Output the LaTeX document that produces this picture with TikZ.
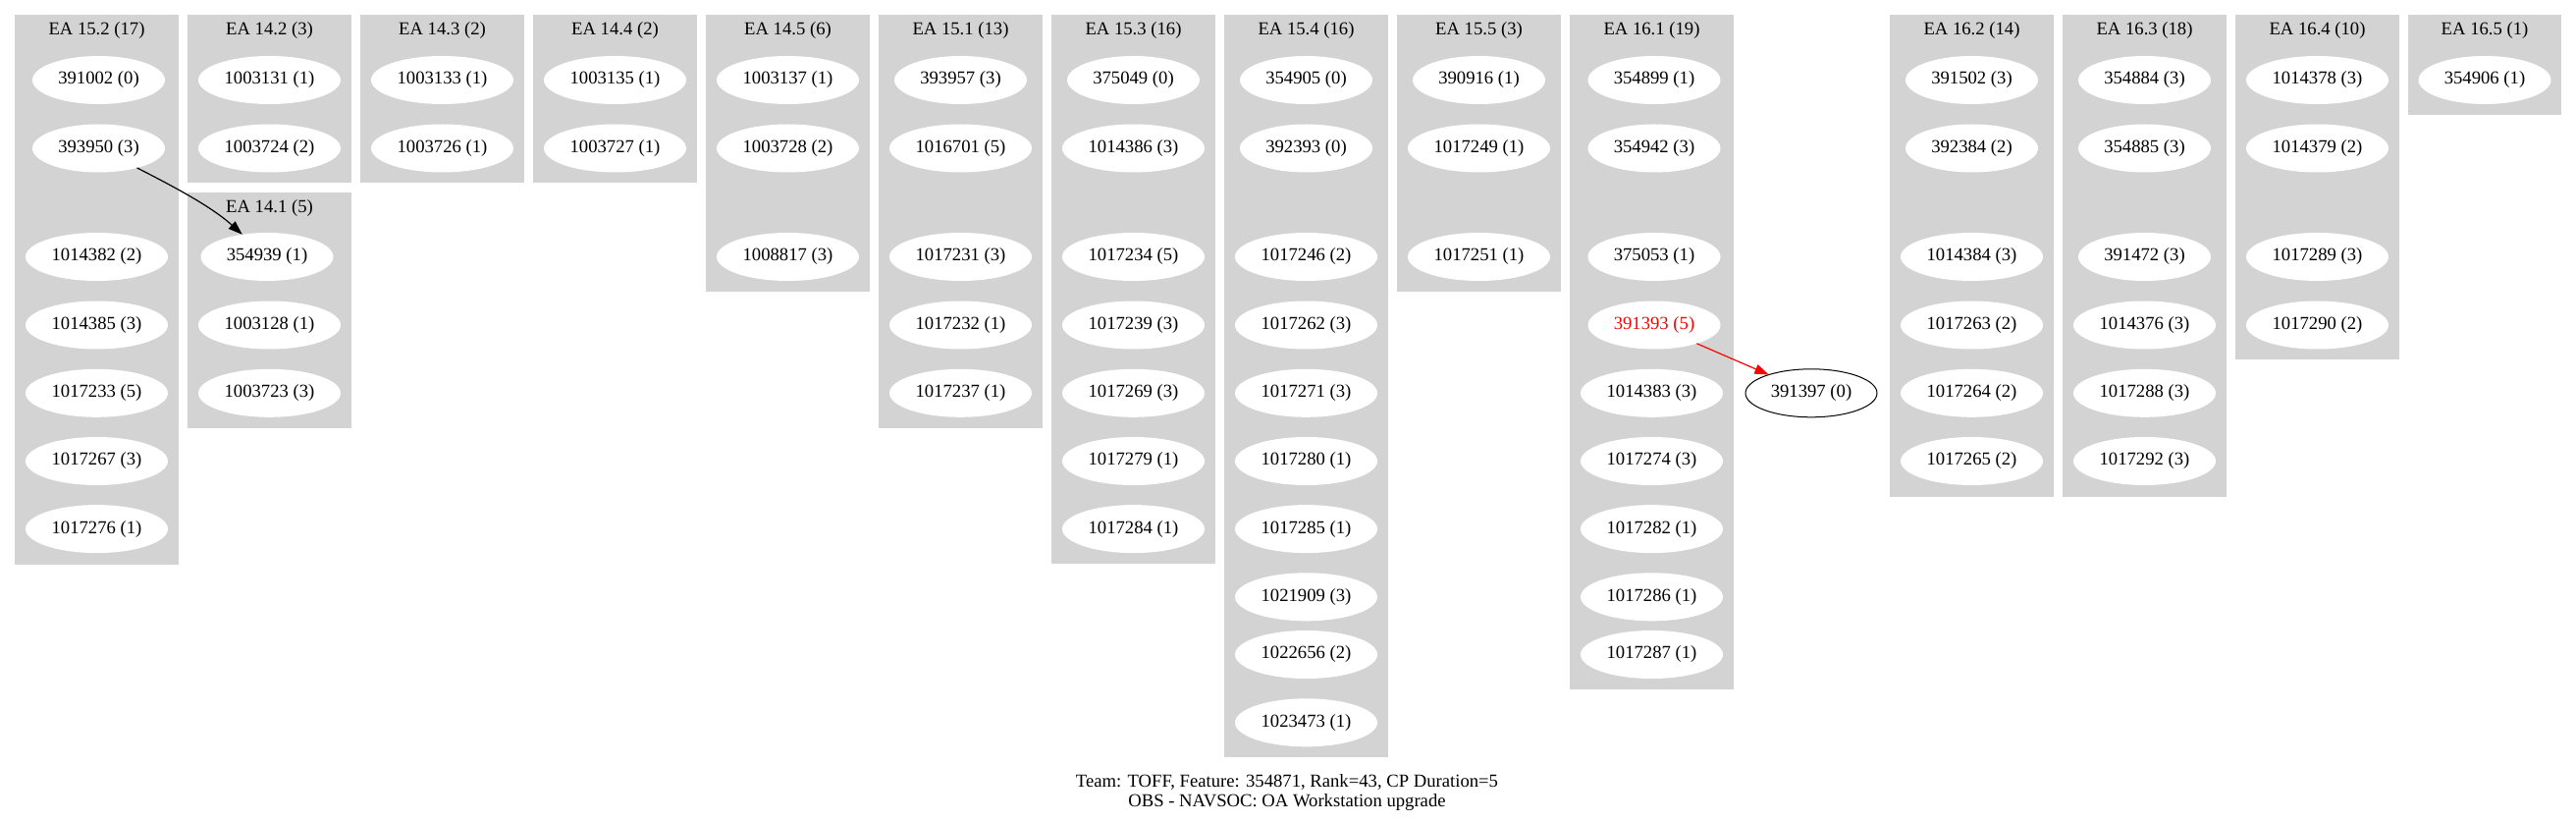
\documentclass[tikz,border=0pt]{standalone}
\usepackage{fontspec}
\setmainfont{Liberation Serif}
\usetikzlibrary{shapes.geometric,arrows.meta}
\definecolor{clgray}{HTML}{D3D3D3}
\begin{document}
\begin{tikzpicture}[x=0.75pt,y=-0.75pt,
  every node/.style={font=\fontsize{14}{15}\selectfont},
  task/.style={ellipse, fill=white, inner sep=0pt, outer sep=0pt,
               minimum height=36.75pt, minimum width=108.75pt},
  short/.style={minimum width=101.25pt},
  hot/.style={text=red},
  free/.style={draw=black, line width=0.75pt, minimum width=100.5pt},
  clbox/.style={fill=clgray},
  cltitle/.style={inner sep=0pt},
  dep/.style={-{Triangle[length=10.8pt,width=7.5pt]}, line width=0.9pt}
]
\useasboundingbox (0,0) rectangle (2624,837);

% ---------- cluster backgrounds ----------
\fill[clbox] (15,15)   rectangle (182,574.8);
\fill[clbox] (191,15)  rectangle (358,186);
\fill[clbox] (191,196) rectangle (358,435.8);
\fill[clbox] (367,15)  rectangle (534,186);
\fill[clbox] (543,15)  rectangle (710,186);
\fill[clbox] (719,15)  rectangle (886,297.4);
\fill[clbox] (895,15)  rectangle (1062,435.8);
\fill[clbox] (1071,15) rectangle (1238,574);
\fill[clbox] (1247,15) rectangle (1414,771);
\fill[clbox] (1423,15) rectangle (1590,297.4);
\fill[clbox] (1599,15) rectangle (1766,701.7);
\fill[clbox] (1925,15) rectangle (2092,506);
\fill[clbox] (2101,15) rectangle (2268,506);
\fill[clbox] (2277,15) rectangle (2444,366.3);
\fill[clbox] (2453,15) rectangle (2609,117);

% ---------- cluster titles ----------
\node[cltitle] (t152) at (98.5,31.5)  {EA 15.2 (17)};
\node[cltitle] (t142) at (274.5,31.5) {EA 14.2 (3)};
\node[cltitle] (t141) at (274.5,212.5) {EA 14.1 (5)};
\node[cltitle] (t143) at (450.5,31.5) {EA 14.3 (2)};
\node[cltitle] (t144) at (626.5,31.5) {EA 14.4 (2)};
\node[cltitle] (t145) at (802.5,31.5) {EA 14.5 (6)};
\node[cltitle] (t151) at (978.5,31.5) {EA 15.1 (13)};
\node[cltitle] (t153) at (1154.5,31.5) {EA 15.3 (16)};
\node[cltitle] (t154) at (1330.5,31.5) {EA 15.4 (16)};
\node[cltitle] (t155) at (1506.5,31.5) {EA 15.5 (3)};
\node[cltitle] (t161) at (1682.5,31.5) {EA 16.1 (19)};
\node[cltitle] (t162) at (2008.5,31.5) {EA 16.2 (14)};
\node[cltitle] (t163) at (2184.5,31.5) {EA 16.3 (18)};
\node[cltitle] (t164) at (2360.5,31.5) {EA 16.4 (10)};
\node[cltitle] (t165) at (2531,31.5)   {EA 16.5 (1)};

% ---------- EA 15.2 ----------
\node[task,short] (n391002) at (100.5,81.5) {391002 (0)};
\node[task,short] (n393950) at (100.5,151) {393950 (3)};
\node[task] (n1014382) at (98.5,261.5) {1014382 (2)};
\node[task] (n1014385) at (98.5,331) {1014385 (3)};
\node[task] (n1017233) at (98.5,400.3) {1017233 (5)};
\node[task] (n1017267) at (98.5,469.5) {1017267 (3)};
\node[task] (n1017276) at (98.5,538.6) {1017276 (1)};

% ---------- EA 14.2 / EA 14.1 ----------
\node[task] (n1003131) at (274.5,81.5) {1003131 (1)};
\node[task] (n1003724) at (274.5,151) {1003724 (2)};
\node[task,short] (n354939) at (272,261.5) {354939 (1)};
\node[task] (n1003128) at (274.5,331) {1003128 (1)};
\node[task] (n1003723) at (274.5,400.3) {1003723 (3)};

% ---------- EA 14.3 ----------
\node[task] (n1003133) at (450.5,81.5) {1003133 (1)};
\node[task] (n1003726) at (450.5,151) {1003726 (1)};

% ---------- EA 14.4 ----------
\node[task] (n1003135) at (626.5,81.5) {1003135 (1)};
\node[task] (n1003727) at (626.5,151) {1003727 (1)};

% ---------- EA 14.5 ----------
\node[task] (n1003137) at (802.5,81.5) {1003137 (1)};
\node[task] (n1003728) at (802.5,151) {1003728 (2)};
\node[task] (n1008817) at (802.5,261.5) {1008817 (3)};

% ---------- EA 15.1 ----------
\node[task,short] (n393957) at (978.5,81.5) {393957 (3)};
\node[task] (n1016701) at (978.5,151) {1016701 (5)};
\node[task] (n1017231) at (978.5,261.5) {1017231 (3)};
\node[task] (n1017232) at (978.5,331) {1017232 (1)};
\node[task] (n1017237) at (978.5,400.3) {1017237 (1)};

% ---------- EA 15.3 ----------
\node[task,short] (n375049) at (1154.5,81.5) {375049 (0)};
\node[task] (n1014386) at (1154.5,151) {1014386 (3)};
\node[task] (n1017234) at (1154.5,261.5) {1017234 (5)};
\node[task] (n1017239) at (1154.5,331) {1017239 (3)};
\node[task] (n1017269) at (1154.5,400.3) {1017269 (3)};
\node[task] (n1017279) at (1154.5,469.5) {1017279 (1)};
\node[task] (n1017284) at (1154.5,538.6) {1017284 (1)};

% ---------- EA 15.4 ----------
\node[task,short] (n354905) at (1330.5,81.5) {354905 (0)};
\node[task,short] (n392393) at (1330.5,151) {392393 (0)};
\node[task] (n1017246) at (1330.5,261.5) {1017246 (2)};
\node[task] (n1017262) at (1330.5,331) {1017262 (3)};
\node[task] (n1017271) at (1330.5,400.3) {1017271 (3)};
\node[task] (n1017280) at (1330.5,469.5) {1017280 (1)};
\node[task] (n1017285) at (1330.5,538.6) {1017285 (1)};
\node[task] (n1021909) at (1330.5,607.8) {1021909 (3)};
\node[task] (n1022656) at (1330.5,666.5) {1022656 (2)};
\node[task] (n1023473) at (1330.5,735.8) {1023473 (1)};

% ---------- EA 15.5 ----------
\node[task,short] (n390916) at (1506.5,81.5) {390916 (1)};
\node[task] (n1017249) at (1506.5,151) {1017249 (1)};
\node[task] (n1017251) at (1506.5,261.5) {1017251 (1)};

% ---------- EA 16.1 ----------
\node[task,short] (n354899) at (1685,81.5) {354899 (1)};
\node[task,short] (n354942) at (1685,151) {354942 (3)};
\node[task,short] (n375053) at (1685,261.5) {375053 (1)};
\node[task,short,hot] (n391393) at (1685,331) {391393 (5)};
\node[task] (n1014383) at (1682.5,400.3) {1014383 (3)};
\node[task] (n1017274) at (1682.5,469.5) {1017274 (3)};
\node[task] (n1017282) at (1682.5,538.6) {1017282 (1)};
\node[task] (n1017286) at (1682.5,607.8) {1017286 (1)};
\node[task] (n1017287) at (1682.5,666.5) {1017287 (1)};

% ---------- free node ----------
\node[task,short,free] (n391397) at (1845,400.3) {391397 (0)};

% ---------- EA 16.2 ----------
\node[task,short] (n391502) at (2008.5,81.5) {391502 (3)};
\node[task,short] (n392384) at (2008.5,151) {392384 (2)};
\node[task] (n1014384) at (2008.5,261.5) {1014384 (3)};
\node[task] (n1017263) at (2008.5,331) {1017263 (2)};
\node[task] (n1017264) at (2008.5,400.3) {1017264 (2)};
\node[task] (n1017265) at (2008.5,469.5) {1017265 (2)};

% ---------- EA 16.3 ----------
\node[task,short] (n354884) at (2184.5,81.5) {354884 (3)};
\node[task,short] (n354885) at (2184.5,151) {354885 (3)};
\node[task,short] (n391472) at (2184.5,261.5) {391472 (3)};
\node[task] (n1014376) at (2184.5,331) {1014376 (3)};
\node[task] (n1017288) at (2184.5,400.3) {1017288 (3)};
\node[task] (n1017292) at (2184.5,469.5) {1017292 (3)};

% ---------- EA 16.4 ----------
\node[task] (n1014378) at (2360.5,81.5) {1014378 (3)};
\node[task] (n1014379) at (2360.5,151) {1014379 (2)};
\node[task] (n1017289) at (2360.5,261.5) {1017289 (3)};
\node[task] (n1017290) at (2360.5,331) {1017290 (2)};

% ---------- EA 16.5 ----------
\node[task,short] (n354906) at (2531,81.5) {354906 (1)};

% ---------- edges ----------
\draw[dep] (n393950) .. controls (175,189) and (215,210) .. (n354939);
\draw[dep,red] (n391393) -- (n391397);

% ---------- caption ----------
\node[align=center, inner sep=0pt] (caption) at (1311,806.7)
  {Team: TOFF, Feature: 354871, Rank=43, CP Duration=5\\OBS - NAVSOC: OA Workstation upgrade};
\end{tikzpicture}
\end{document}
